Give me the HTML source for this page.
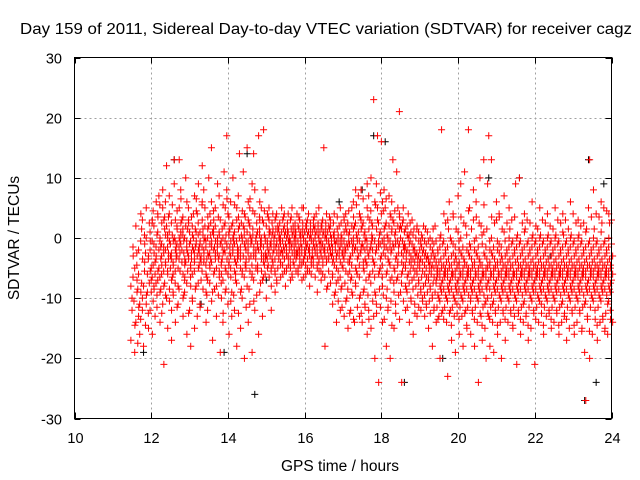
<!DOCTYPE html>
<html><head><meta charset="utf-8"><style>
body{margin:0;background:#fff;}
svg{display:block;font-family:"Liberation Sans",sans-serif;}
</style></head><body>
<svg id="chart" width="640" height="480">
<rect width="640" height="480" fill="#fff"/>
<text x="326" y="34" font-size="15.5" text-anchor="middle" textLength="612" lengthAdjust="spacingAndGlyphs">Day 159 of 2011, Sidereal Day-to-day VTEC variation (SDTVAR) for receiver cagz</text>
<text x="340" y="471" font-size="15.5" text-anchor="middle">GPS time / hours</text>
<text transform="translate(19,238) rotate(-90)" font-size="15.5" text-anchor="middle">SDTVAR / TECUs</text>
<g id="grid"></g>
<g id="ticks"></g>
<g id="marks"></g>
<rect x="74.5" y="57.5" width="537" height="361" fill="none" stroke="#000" stroke-width="1"/>
</svg>
<script>
const xTicks=[10,12,14,16,18,20,22,24];
const yTicks=[-30,-20,-10,0,10,20,30];
const tRows=[11.5,11.6,11.7,11.8,11.9,12.0,12.1,12.2,12.3,12.4,12.5,12.6,12.7,12.8,12.9,13.0,13.1,13.2,13.3,13.4,13.5,13.6,13.7,13.8,13.9,14.0,14.1,14.2,14.3,14.4,14.5,14.6,14.7,14.8,14.9,15.0,15.1,15.2,15.3,15.4,15.5,15.6,15.7,15.8,15.9,16.0,16.1,16.2,16.3,16.4,16.5,16.6,16.7,16.8,16.9,17.0,17.1,17.2,17.3,17.4,17.5,17.6,17.7,17.8,17.9,18.0,18.1,18.2,18.3,18.4,18.5,18.6,18.7,18.8,18.9,19.0,19.1,19.2,19.3,19.4,19.5,19.6,19.7,19.8,19.9,20.0,20.1,20.2,20.3,20.4,20.5,20.6,20.7,20.8,20.9,21.0,21.1,21.2,21.3,21.4,21.5,21.6,21.7,21.8,21.9,22.0,22.1,22.2,22.3,22.4,22.5,22.6,22.7,22.8,22.9,23.0,23.1,23.2,23.3,23.4,23.5,23.6,23.7,23.8,23.9,24.0];
const redValues=[
[-8,-12,-3,-17,-10],[-5,-14,-9,-19,2,-7],[-2,-11,4,-6,-16,-9,-13],[3,-8,-4,-12,-18,-1,-10],[0,-6,-15,5,-9,-3,-11],
[-2,-7,3,-12,-5,-16,1,-9],[-1,-4,6,-8,-13,-3,2,-6],[1,-5,-9,4,-2,-14,-7,7,0],[-3,5,-8,-1,-11,3,-6,8,-21],[-2,2,-6,6,-10,0,-4,12,-15],
[1,-3,-7,4,-1,-12,7,-5,-17],[-4,0,3,-9,13,-2,-6,9,-14],[2,-5,5,-1,-8,13,-3,-11,0],[-1,3,-6,8,-2,-10,1,-4,-13],[0,-4,6,-7,2,-2,-9,10,-16],
[-3,1,-5,5,-1,-8,3,-12,-18],[2,-2,7,-6,0,-4,-10,4,-15],[-1,4,-5,1,-3,9,-8,-13,-2],[1,-4,6,-1,-7,3,-11,-3,12],[-2,2,-6,8,0,-9,-4,5,-14],
[0,-3,4,-7,10,-1,-12,2,-5],[-4,1,-2,6,-9,-6,15,-17,3],[2,-5,-1,5,-8,0,-3,-13,9],[-3,3,-6,7,-1,-10,1,-19,-4],[0,-2,5,-7,2,-5,-14,11,-9],
[-1,4,-4,8,-6,1,17,-11,-16],[-5,2,-2,6,-9,0,-3,-13,10],[1,-4,5,-1,-7,3,-12,-6,-18],[-2,2,-5,7,0,-9,-3,14,-15],[0,-3,4,-6,11,-1,-10,2,-20],
[-4,1,6,-2,-8,3,-5,15,-14],[2,-1,-6,5,-3,9,-11,0,-19],[-3,4,0,-7,8,-2,14,-12,-5],[1,-2,6,-5,17,-9,-1,-16,3],[-1,3,-4,5,-7,18,0,-13,-3],
[0,-3,4,-6,2,-1,8,-10,-5],[-2,1,-5,3,-1,-8,5,-3,-12],[1,-2,3,-4,0,-6,4,-1,-9],[-1,2,-3,4,-5,0,-7,1,-2],[0,-2,3,-4,1,-6,-1,5,-3],
[-2,1,-3,4,-1,-5,2,-8,0],[1,-1,3,-3,0,-5,4,-2,-7],[-1,2,-2,5,-4,0,-6,1,-3],[0,-3,2,-1,4,-5,1,-2,-6],[-2,1,-4,3,-1,5,-3,0,-7],
[0,-2,2,-4,1,-1,5,-3,-6],[-1,1,-3,3,-2,0,-5,4,-8],[0,-2,2,-4,1,-1,-6,-3,3],[-2,1,-3,2,-1,-5,0,4,-9],[0,-1,2,-4,1,-3,5,-2,-7],
[-1,1,-3,3,-2,0,-6,15,-18],[0,-2,2,-4,1,-1,4,-8,-3],[-2,0,-4,3,-1,-6,2,-3,-11],[1,-1,-3,4,-2,-5,0,-9,-14],[-1,2,-4,0,-2,5,-7,-3,-12],
[0,-3,3,-1,-5,1,-8,-2,-13],[-2,1,-4,4,-1,-6,2,-10,-15],[1,-3,5,-1,-7,2,-4,-12,-9],[-1,2,-5,6,-2,-8,0,-14,8],[0,-3,4,-6,1,-10,-2,7,-13],
[-2,2,-5,8,-1,-9,3,-14,-4],[1,-4,5,-2,-7,9,-11,0,-16],[-3,3,-1,7,-6,10,-12,-2,-15],[0,-4,6,-2,23,-9,2,-13,-20],[-2,3,-6,9,17,-1,-11,5,-24],
[1,-3,6,-5,16,-8,-1,4,-14],[-1,2,-6,8,-3,-10,0,5,-18],[0,-4,4,-2,7,-7,-12,2,-20],[-2,3,-5,6,-1,-9,1,13,-15],[1,-3,5,-1,-7,2,-11,11,-4],
[-1,2,-4,21,0,-6,4,-9,-24],[-3,1,-5,3,-1,-8,5,-2,-12],[-2,0,-4,2,-6,-1,-9,4,-14],[-3,-1,-5,1,-7,-2,-10,3,-16],[-4,0,-6,-2,-8,2,-11,-3,-13],
[-3,-5,-1,-7,-2,-9,1,-4,-12],[-4,-2,-6,0,-8,-3,-10,2,-13],[-5,-3,-7,-1,-9,-4,-11,1,-15],[-4,-6,-2,-8,-3,-10,0,-5,-18],[-5,-3,-7,-1,-9,-4,-12,2,-14],
[-6,-4,-8,-2,-10,0,-5,-13,-20],[-5,-7,-3,-9,-1,-6,18,-12,4],[-6,-4,-8,-2,-10,3,-5,-14,-23],[-5,-7,-3,-9,0,-6,6,-12,-17],[-6,-4,-8,-1,-10,-3,4,-13,-19],
[-5,-7,-2,-9,1,-4,-11,7,-16],[-6,-3,-8,0,-10,-5,9,-13,-18],[-4,-7,-2,-9,2,-6,11,-12,-15],[-6,-3,-8,18,-1,-10,-5,5,-16],[-5,-7,-2,-9,3,-4,-12,8,-18],
[-6,-3,-8,0,-10,-5,6,-14,-24],[-4,-7,-1,-9,2,-6,10,-13,-17],[-6,-3,-8,1,-11,-5,13,-15,-20],[-5,-7,-2,-10,17,-4,9,-13,-18],[-6,-3,-8,0,-11,-5,13,-14,-19],
[-5,-7,-2,-9,3,-4,-12,6,-16],[-6,-4,-8,-1,-10,-3,4,-14,-20],[-5,-7,-3,-9,1,-6,-12,7,-17],[-6,-4,-8,-2,-10,0,-5,-14,5],[-5,-7,-3,-9,-1,-6,-12,3,-15],
[-6,-4,-8,-2,-10,0,-13,9,-21],[-5,-7,-3,-9,-1,-6,-12,10,-16],[-6,-4,-8,-2,-11,1,-5,-14,4],[-5,-7,-3,-9,-1,-6,-13,3,-17],[-6,-4,-8,-2,-10,0,-5,-15,6],
[-5,-7,-3,-9,-1,-6,-12,-21,2],[-6,-4,-8,-2,-10,0,-5,-14,5],[-5,-7,-3,-9,-1,-6,-11,3,-16],[-6,-4,-8,-2,-10,0,-5,-13,4],[-5,-7,-3,-9,-1,-6,-12,2,-15],
[-6,-4,-8,-2,-10,0,-5,-14,5],[-5,-7,-3,-9,-1,-6,-12,3,-16],[-6,-4,-8,-2,-11,1,-5,-14,4],[-5,-7,-3,-9,-1,-6,-13,3,-17],[-6,-4,-8,-2,-10,0,-5,-15,6],
[-5,-7,-3,-9,-1,-6,-12,4,-16],[-6,-4,-8,-2,-10,0,-5,-14,3],[-5,-7,-3,-9,-1,-6,-12,2,-15],[-6,-4,-8,-2,-11,1,-5,-19,-27],[-5,-7,-3,-9,-1,13,-13,5,-20],
[-6,-4,-8,-2,-10,0,-5,-16,8],[-5,-7,-3,-9,-1,-6,-12,4,-17],[-6,-4,-8,-2,-10,1,-5,-14,6],[-5,-7,-3,-9,-1,-6,-13,5,-15],[-6,-4,-8,-2,-11,0,-5,-16,4],
[-5,-7,-3,-9,-1,-6,-12,3,-14]];
const tRows2=[11.55,11.65,11.75,11.85,11.95,12.05,12.15,12.25,12.35,12.45,12.55,12.65,12.75,12.85,12.95,13.05,13.15,13.25,13.35,13.45,13.55,13.65,13.75,13.85,13.95,14.05,14.15,14.25,14.35,14.45,14.55,14.65,14.75,14.85,14.95,15.05,15.15,15.25,15.35,15.45,15.55,15.65,15.75,15.85,15.95,16.05,16.15,16.25,16.35,16.45,16.55,16.65,16.75,16.85,16.95,17.05,17.15,17.25,17.35,17.45,17.55,17.65,17.75,17.85,17.95,18.05,18.15,18.25,18.35,18.45,18.55,18.65,18.75,18.85,18.95,19.05,19.15,19.25,19.35,19.45,19.55,19.65,19.75,19.85,19.95,20.05,20.15,20.25,20.35,20.45,20.55,20.65,20.75,20.85,20.95,21.05,21.15,21.25,21.35,21.45,21.55,21.65,21.75,21.85,21.95,22.05,22.15,22.25,22.35,22.45,22.55,22.65,22.75,22.85,22.95,23.05,23.15,23.25,23.35,23.45,23.55,23.65,23.75,23.85,23.95];
const redValues2=[
[-6.5,-10.5,-14.5,-1.5],[-4.5,-8.5,-11.5,-2.5,-17.5],[-0.5,-7.5,-3.5,-13.5,1.5],[-5.5,-2.5,-9.5,0.5,-14.5],[-3.5,-7.5,-0.5,-12.5,2.5,-5.5],
[-0.5,-4.5,-8.5,2.5,-10.5,-2.5,-6.5,4.5],[-3.5,0.5,-5.5,-1.5,-9.5,3.5,-7.5,-11.5],[-0.5,-3.5,2.5,-6.5,-1.5,-4.5,5.5,-8.5,-12.5],[-1.5,1.5,-4.5,-2.5,-7.5,0.5,-5.5,3.5,-9.5],[0.5,-3.5,-0.5,-5.5,3.5,-8.5,-1.5,-2.5,-10.5],
[-2.5,0.5,-4.5,2.5,-6.5,-0.5,-3.5,5.5,-9.5],[-0.5,-2.5,1.5,-5.5,-1.5,4.5,-7.5,-3.5,-11.5],[-3.5,-0.5,2.5,-1.5,-5.5,0.5,-8.5,-2.5,6.5],[0.5,-2.5,-4.5,1.5,-0.5,-6.5,3.5,-9.5,-3.5],[-1.5,1.5,-3.5,-0.5,-5.5,2.5,-7.5,-2.5,-12.5],
[-0.5,-2.5,0.5,-4.5,3.5,-1.5,-6.5,-3.5,-10.5],[-2.5,1.5,-0.5,-5.5,-1.5,4.5,-3.5,-8.5,6.5],[0.5,-1.5,-3.5,2.5,-4.5,-0.5,-7.5,-2.5,-11.5],[-1.5,0.5,-2.5,-5.5,1.5,-3.5,5.5,-8.5,-0.5],[-0.5,-3.5,1.5,-1.5,-6.5,3.5,-4.5,-9.5,-2.5],
[-2.5,0.5,-0.5,-4.5,2.5,-1.5,-7.5,-3.5,-10.5],[0.5,-1.5,-3.5,1.5,-5.5,-0.5,4.5,-8.5,-2.5],[-1.5,-3.5,0.5,-2.5,3.5,-5.5,-0.5,-9.5,-6.5],[-0.5,1.5,-2.5,-4.5,-1.5,5.5,-7.5,-3.5,-12.5],[-2.5,0.5,-1.5,2.5,-5.5,-3.5,-0.5,-8.5,6.5],
[0.5,-2.5,-0.5,-4.5,1.5,-6.5,3.5,-1.5,-10.5],[-1.5,0.5,-3.5,2.5,-0.5,-5.5,-2.5,-9.5,5.5],[-0.5,-2.5,1.5,-4.5,-1.5,3.5,-7.5,-3.5,-12.5],[-2.5,0.5,-0.5,-3.5,2.5,-5.5,-1.5,-8.5,4.5],[0.5,-1.5,-3.5,1.5,-4.5,-0.5,-6.5,3.5,-11.5],
[-1.5,-3.5,0.5,-2.5,2.5,-5.5,-0.5,-8.5,6.5],[-0.5,1.5,-2.5,-4.5,0.5,-1.5,-6.5,4.5,-10.5],[-2.5,0.5,-1.5,-3.5,2.5,-5.5,-0.5,-9.5,-4.5],[0.5,-1.5,-3.5,1.5,-0.5,-5.5,3.5,-7.5,-2.5],[-1.5,0.5,-2.5,2.5,-4.5,-0.5,-6.5,4.5,-3.5],
[-0.5,-2.5,1.5,-1.5,-4.5,0.5,-3.5,3.5,-6.5],[-1.5,0.5,-2.5,-0.5,-3.5,1.5,-5.5,2.5,-4.5],[0.5,-1.5,-0.5,-3.5,1.5,-2.5,-5.5,3.5,-7.5],[-1.5,0.5,-2.5,1.5,-0.5,-4.5,-3.5,2.5,-6.5],[-0.5,-1.5,0.5,-2.5,1.5,-3.5,-4.5,3.5,-5.5],
[-1.5,0.5,-0.5,-2.5,1.5,-3.5,-5.5,2.5,-4.5],[-0.5,-1.5,0.5,-3.5,1.5,-2.5,-4.5,3.5,-6.5],[-1.5,0.5,-2.5,-0.5,2.5,-3.5,-4.5,1.5,-5.5],[-0.5,-1.5,0.5,-2.5,1.5,-3.5,-5.5,3.5,-4.5],[-1.5,0.5,-0.5,-2.5,2.5,-3.5,-4.5,1.5,-6.5],
[-0.5,-1.5,0.5,-2.5,1.5,-3.5,-4.5,2.5,-5.5],[-1.5,0.5,-0.5,-2.5,1.5,-3.5,-5.5,2.5,-4.5],[-0.5,-1.5,0.5,-3.5,1.5,-2.5,-4.5,3.5,-6.5],[-1.5,0.5,-0.5,-2.5,1.5,-3.5,-4.5,2.5,-5.5],[-0.5,-1.5,0.5,-2.5,1.5,-3.5,-5.5,2.5,-4.5],
[-1.5,0.5,-0.5,-2.5,1.5,-3.5,-6.5,2.5,-8.5],[-0.5,-1.5,0.5,-3.5,1.5,-2.5,-5.5,3.5,-7.5],[-1.5,0.5,-0.5,-2.5,2.5,-4.5,-6.5,-3.5,-9.5],[-0.5,-2.5,0.5,-3.5,1.5,-5.5,-7.5,3.5,-10.5],[-1.5,0.5,-2.5,-0.5,2.5,-4.5,-6.5,-8.5,-11.5],
[-0.5,-2.5,1.5,-3.5,-1.5,-5.5,3.5,-7.5,-10.5],[-1.5,0.5,-3.5,2.5,-0.5,-5.5,-8.5,4.5,-12.5],[-0.5,-2.5,1.5,-4.5,-1.5,3.5,-6.5,-9.5,-13.5],[-1.5,0.5,-3.5,2.5,-5.5,-0.5,-7.5,5.5,-11.5],[-0.5,-2.5,1.5,-4.5,3.5,-1.5,-6.5,-9.5,-12.5],
[-1.5,0.5,-3.5,2.5,-5.5,-0.5,6.5,-8.5,-11.5],[-0.5,-2.5,1.5,-4.5,3.5,-6.5,-1.5,-9.5,-13.5],[-1.5,0.5,-3.5,4.5,-0.5,-5.5,-7.5,2.5,-10.5],[-0.5,-2.5,1.5,-4.5,5.5,-1.5,-6.5,-9.5,-12.5],[-1.5,0.5,-3.5,2.5,-5.5,7.5,-0.5,-8.5,-11.5],
[-0.5,-2.5,1.5,-4.5,4.5,-1.5,-6.5,-9.5,-13.5],[-1.5,0.5,-3.5,2.5,-5.5,-0.5,6.5,-8.5,-11.5],[-0.5,-2.5,1.5,-4.5,3.5,-6.5,-1.5,-10.5,-14.5],[-1.5,0.5,-3.5,2.5,-5.5,-0.5,-7.5,4.5,-12.5],[-0.5,-2.5,1.5,-4.5,-1.5,3.5,-6.5,-9.5,-13.5],
[-2.5,-0.5,-4.5,1.5,-5.5,-1.5,-7.5,2.5,-10.5],[-1.5,-3.5,0.5,-4.5,-2.5,-6.5,1.5,-8.5,-11.5],[-2.5,-0.5,-4.5,0.5,-5.5,-3.5,-7.5,2.5,-10.5],[-3.5,-1.5,-5.5,0.5,-6.5,-2.5,-8.5,1.5,-12.5],[-2.5,-4.5,-0.5,-5.5,-3.5,-7.5,1.5,-9.5,-11.5],
[-3.5,-1.5,-5.5,-0.5,-6.5,-2.5,-8.5,0.5,-10.5],[-4.5,-2.5,-6.5,-0.5,-7.5,-3.5,-9.5,1.5,-11.5],[-3.5,-5.5,-1.5,-6.5,-4.5,-8.5,-0.5,-10.5,-12.5],[-4.5,-2.5,-6.5,-0.5,-7.5,-3.5,-9.5,1.5,-11.5],[-4.5,-6.5,-2.5,-7.5,-5.5,-9.5,-0.5,-11.5,-13.5],
[-5.5,-3.5,-7.5,-1.5,-8.5,-4.5,-10.5,0.5,-12.5,-6.5],[-4.5,-6.5,-2.5,-8.5,-5.5,-9.5,-0.5,-11.5,2.5,-13.5],[-5.5,-3.5,-7.5,-1.5,-8.5,-4.5,-10.5,1.5,-12.5,-6.5],[-4.5,-6.5,-2.5,-8.5,-5.5,-9.5,-0.5,-11.5,3.5,-14.5],[-5.5,-3.5,-7.5,-1.5,-8.5,-4.5,-10.5,1.5,-12.5,-6.5],
[-4.5,-6.5,-2.5,-8.5,-5.5,-9.5,-0.5,-11.5,3.5,-13.5],[-5.5,-3.5,-7.5,-1.5,-8.5,-4.5,-10.5,2.5,-12.5,-6.5],[-4.5,-6.5,-2.5,-8.5,-5.5,-9.5,0.5,-11.5,4.5,-14.5],[-5.5,-3.5,-7.5,-1.5,-8.5,-4.5,-10.5,1.5,-12.5,-6.5],[-4.5,-6.5,-2.5,-8.5,-5.5,-9.5,-0.5,-11.5,3.5,-13.5],
[-5.5,-3.5,-7.5,-1.5,-8.5,-4.5,-10.5,2.5,-12.5,-6.5],[-4.5,-6.5,-2.5,-8.5,-5.5,-9.5,0.5,-11.5,5.5,-14.5],[-5.5,-3.5,-7.5,-1.5,-8.5,-4.5,-10.5,1.5,-12.5,-6.5],[-4.5,-6.5,-2.5,-8.5,-5.5,-9.5,-0.5,-11.5,3.5,-13.5],[-5.5,-3.5,-7.5,-1.5,-8.5,-4.5,-10.5,2.5,-12.5,-6.5],
[-4.5,-6.5,-2.5,-8.5,-5.5,-9.5,-0.5,-11.5,3.5,-14.5],[-5.5,-3.5,-7.5,-1.5,-8.5,-4.5,-10.5,1.5,-12.5,-6.5],[-4.5,-6.5,-2.5,-8.5,-5.5,-9.5,-0.5,-11.5,2.5,-13.5],[-5.5,-3.5,-7.5,-1.5,-8.5,-4.5,-10.5,1.5,-12.5,-6.5],[-4.5,-6.5,-2.5,-8.5,-5.5,-9.5,-0.5,-11.5,3.5,-14.5],
[-5.5,-3.5,-7.5,-1.5,-8.5,-4.5,-10.5,0.5,-12.5,-6.5],[-4.5,-6.5,-2.5,-8.5,-5.5,-9.5,-0.5,-11.5,2.5,-13.5],[-5.5,-3.5,-7.5,-1.5,-8.5,-4.5,-10.5,1.5,-12.5,-6.5],[-4.5,-6.5,-2.5,-8.5,-5.5,-9.5,-0.5,-11.5,2.5,-14.5],[-5.5,-3.5,-7.5,-1.5,-8.5,-4.5,-10.5,0.5,-12.5,-6.5],
[-4.5,-6.5,-2.5,-8.5,-5.5,-9.5,-0.5,-11.5,1.5,-13.5],[-5.5,-3.5,-7.5,-1.5,-8.5,-4.5,-10.5,0.5,-12.5,-6.5],[-4.5,-6.5,-2.5,-8.5,-5.5,-9.5,-0.5,-11.5,2.5,-14.5],[-5.5,-3.5,-7.5,-1.5,-8.5,-4.5,-10.5,0.5,-12.5,-6.5],[-4.5,-6.5,-2.5,-8.5,-5.5,-9.5,-0.5,-11.5,1.5,-13.5],
[-5.5,-3.5,-7.5,-1.5,-8.5,-4.5,-10.5,0.5,-12.5,-6.5],[-4.5,-6.5,-2.5,-8.5,-5.5,-9.5,-0.5,-11.5,2.5,-14.5],[-5.5,-3.5,-7.5,-1.5,-8.5,-4.5,-10.5,0.5,-12.5,-6.5],[-4.5,-6.5,-2.5,-8.5,-5.5,-9.5,-0.5,-11.5,1.5,-13.5],[-5.5,-3.5,-7.5,-1.5,-8.5,-4.5,-10.5,0.5,-12.5,-6.5],
[-4.5,-6.5,-2.5,-8.5,-5.5,-9.5,-0.5,-11.5,2.5,-14.5],[-5.5,-3.5,-7.5,-1.5,-8.5,-4.5,-10.5,0.5,-12.5,-6.5],[-4.5,-6.5,-2.5,-8.5,-5.5,-9.5,-0.5,-11.5,2.5,-15.5],[-5.5,-3.5,-7.5,-1.5,-8.5,-4.5,-10.5,1.5,-13.5,-6.5],[-4.5,-6.5,-2.5,-8.5,-5.5,-9.5,-0.5,-11.5,3.5,-15.5],
[-5.5,-3.5,-7.5,-1.5,-8.5,-4.5,-10.5,1.5,-13.5,-6.5],[-4.5,-6.5,-2.5,-8.5,-5.5,-9.5,-0.5,-11.5,3.5,-14.5],[-5.5,-3.5,-7.5,-1.5,-8.5,-4.5,-10.5,2.5,-13.5,-6.5],[-4.5,-6.5,-2.5,-8.5,-5.5,-9.5,-0.5,-12.5,4.5,-15.5],[-5.5,-3.5,-7.5,-1.5,-8.5,-4.5,-10.5,2.5,-13.5,-6.5]];
const blackTimes=[11.8,12.6,13.3,13.9,14.5,14.7,15.0,16.9,17.5,17.8,18.1,18.6,19.6,20.8,21.6,22.4,23.3,23.4,23.6,23.8];
const blackValues=[-19,13,-11,-19,14,-26,-7,6,8,17,16,-24,-20,10,10,-3,-27,13,-24,9];

const X0=74.5,X1=611.5,Y0=418.5,Y1=57.5;
const xs=v=>X0+(v-10)/(24-10)*(X1-X0);
const ys=v=>Y0-(v+30)/60*(Y0-Y1);
const NS='http://www.w3.org/2000/svg';
const grid=document.getElementById('grid'),ticks=document.getElementById('ticks'),marks=document.getElementById('marks');
function mk(tag,attrs,parent){const e=document.createElementNS(NS,tag);for(const k in attrs)e.setAttribute(k,attrs[k]);parent.appendChild(e);return e;}
xTicks.forEach(t=>{
  const x=Math.round(xs(t))+0.5;
  if(t>10&&t<24){const g=mk('line',{x1:x,x2:x,y1:Y1,y2:Y0,stroke:'#a0a0a0','stroke-dasharray':'2,3'},grid);
  
  }
  const tk=mk('path',{d:`M${x},${Y0}v-6M${x},${Y1}v6`,stroke:'#000'},ticks);
  
  
  const l=mk('text',{x:x,y:443,'font-size':14.5,'text-anchor':'middle'},ticks);l.textContent=t;
  
  
});
yTicks.forEach(t=>{
  const y=Math.round(ys(t))+0.5;
  if(t>-30&&t<30){const g=mk('line',{x1:X0,x2:X1,y1:y,y2:y,stroke:'#a0a0a0','stroke-dasharray':'2,3'},grid);
  
  }
  const tk=mk('path',{d:`M${X0},${y}h6M${X1},${y}h-6`,stroke:'#000'},ticks);
  
  
  const l=mk('text',{x:62,y:y+5,'font-size':14.5,'text-anchor':'end'},ticks);l.textContent=t;
  
  
});
let dB='';
blackTimes.forEach((t,i)=>{const x=xs(t),y=ys(blackValues[i]);dB+=`M${x-3.5},${y}h7M${x},${y-3.5}v7`;});
const pb=mk('path',{d:dB,stroke:'#000',fill:'none','stroke-width':1},marks);


let dR='';
tRows.forEach((t,i)=>{redValues[i].forEach((v,j)=>{const x=xs(t+(j%3-1)*0.03),y=ys(v);dR+=`M${x-3.5},${y}h7M${x},${y-3.5}v7`;});});
tRows2.forEach((t,i)=>{redValues2[i].forEach((v,j)=>{const x=xs(t+(j%3-1)*0.025),y=ys(v);dR+=`M${x-3.5},${y}h7M${x},${y-3.5}v7`;});});
const pr=mk('path',{d:dR,stroke:'#ff0000',fill:'none','stroke-width':1},marks);


</script>
</body></html>
